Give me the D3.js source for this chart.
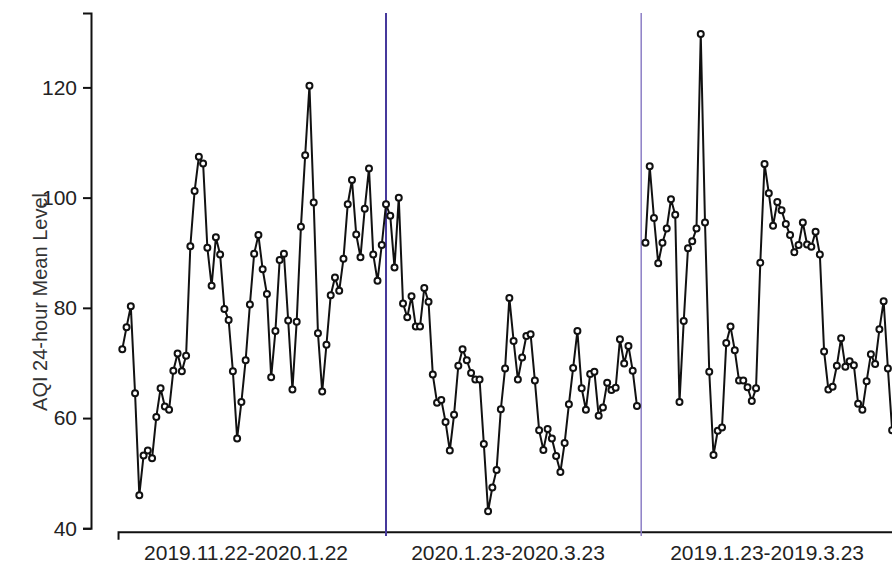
<!DOCTYPE html>
<html>
<head>
<meta charset="utf-8">
<script src="https://cdn.jsdelivr.net/npm/d3@7"></script>
<style>
  html, body { margin: 0; padding: 0; background: #fff; }
  svg { display: block; font-family: "Liberation Sans", Arial, sans-serif; }
</style>
</head>
<body>
<svg id="chart" width="892" height="564"></svg>
<script>
// ---- data ----
const periodLabels = ["2019.11.22-2020.1.22", "2020.1.23-2020.3.23", "2019.1.23-2019.3.23"];
const period1 = [72.5,76.5,80.3,64.5,46.0,53.2,54.1,52.7,60.2,65.4,62.1,61.5,68.6,71.7,68.5,71.3,91.2,101.2,107.4,106.2,
  90.9,84.0,92.8,89.7,79.8,77.8,68.5,56.3,62.9,70.5,80.6,89.8,93.2,87.0,82.5,67.4,75.8,88.7,89.8,77.7,
  65.2,77.5,94.7,107.7,120.3,99.1,75.4,64.8,73.3,82.3,85.5,83.1,88.9,98.8,103.2,93.3,89.2,98.0,105.3,89.7,
  84.9,91.4];
const period2 = [98.8,96.7,87.3,100.0,80.8,78.3,82.1,76.6,76.6,83.6,81.1,67.9,62.8,63.3,59.3,54.1,60.6,69.5,72.5,70.5,
  68.2,67.0,67.0,55.3,43.1,47.4,50.6,61.6,69.0,81.8,74.0,67.0,71.0,74.9,75.2,66.8,57.8,54.2,58.0,56.3,
  53.1,50.2,55.5,62.5,69.1,75.8,65.4,61.5,68.0,68.4,60.4,61.9,66.4,65.1,65.5,74.3,69.9,73.1,68.6,62.2,
  null];
const period3 = [91.8,105.7,96.3,88.1,91.8,94.4,99.7,96.9,62.9,77.6,90.8,92.1,94.4,129.7,95.5,68.4,53.3,57.7,58.3,73.6,
  76.6,72.3,66.8,66.8,65.6,63.1,65.4,88.2,106.1,100.8,94.9,99.2,97.7,95.2,93.2,90.1,91.4,95.5,91.5,91.1,
  93.8,89.7,72.1,65.2,65.7,69.5,74.5,69.3,70.3,69.6,62.6,61.5,66.7,71.6,69.8,76.1,81.2,69.0,57.8];
const yTicks = [40, 60, 80, 100, 120];
const yTitle = "AQI 24-hour Mean Level";
const periodLengths = [62, 61, 60];

// ---- build ----
const values = [...period1, ...period2, ...period3];
const data = values.map((v, i) => ({ i, v }));
const totalDays = periodLengths.reduce((a, b) => a + b, 0);

const svg = d3.select("#chart");

const x = d3.scaleLinear().domain([0, totalDays - 1]).range([122.3, 896.4]);
const y = d3.scaleLinear().domain([40, 133.5]).range([528.3, 13]);

// y axis
const yAxis = d3.axisLeft(y).tickValues(yTicks).tickSizeOuter(0).tickSize(8).tickPadding(6);
const gy = svg.append("g").attr("transform", "translate(91,0)").call(yAxis);
gy.select(".domain").attr("stroke", "#111").attr("stroke-width", 2);
gy.selectAll(".tick line").attr("stroke", "#111").attr("stroke-width", 2);
gy.selectAll(".tick text").attr("font-size", 21).attr("fill", "#222")
  .attr("font-family", "'Liberation Sans', Arial, sans-serif");

// x axis line (starts one day before first point)
const xAxisScale = d3.scaleLinear().domain([-1, totalDays + 1]).range([x(-1), x(totalDays + 1)]);
const xAxis = d3.axisBottom(xAxisScale).tickValues([]).tickSizeOuter(8);
const gx = svg.append("g").attr("transform", "translate(0,531.7)").call(xAxis);
gx.select(".domain").attr("stroke", "#111").attr("stroke-width", 2);

// x labels
const labelIdx = [29.1, 90.7, 151.6];
svg.append("g").selectAll("text").data(periodLabels).join("text")
  .attr("x", (d, k) => x(labelIdx[k]))
  .attr("y", 560)
  .attr("text-anchor", "middle")
  .attr("font-size", 21)
  .attr("fill", "#222")
  .text(d => d);

// y title
svg.append("text")
  .attr("transform", "translate(47,302) rotate(-90)")
  .attr("text-anchor", "middle")
  .attr("font-size", 20)
  .attr("fill", "#333")
  .text(yTitle);

// separators
const sepIdx = [periodLengths[0], periodLengths[0] + periodLengths[1] - 1];
const sepColors = ["#46399c", "#8d7fc6"];
const sepWidths = [2, 1.5];
svg.append("g").selectAll("line").data(sepIdx).join("line")
  .attr("x1", d => x(d)).attr("x2", d => x(d))
  .attr("y1", y(133.5)).attr("y2", 536)
  .attr("stroke", (d, k) => sepColors[k])
  .attr("stroke-width", (d, k) => sepWidths[k]);

// line
const line = d3.line().defined(d => d.v != null).x(d => x(d.i)).y(d => y(d.v));
svg.append("path").datum(data)
  .attr("d", line)
  .attr("fill", "none")
  .attr("stroke", "#111")
  .attr("stroke-width", 2)
  .attr("stroke-linejoin", "round");

// points
svg.append("g").selectAll("circle").data(data.filter(d => d.v != null)).join("circle")
  .attr("cx", d => x(d.i))
  .attr("cy", d => y(d.v))
  .attr("r", 3)
  .attr("fill", "#fff")
  .attr("stroke", "#111")
  .attr("stroke-width", 2);
</script>
</body>
</html>
